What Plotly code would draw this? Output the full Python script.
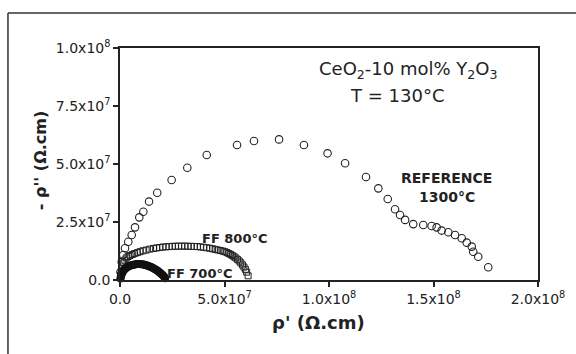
import plotly.graph_objects as go

# ---- data (values in Ohm.cm) ----
ref_x = [0.24, 0.81, 1.58, 2.39, 3.97, 5.6, 7.18, 9.23, 11.15, 13.9, 17.8, 24.7, 32.2, 41.5,
         56.0, 64.1, 76.1, 88.0, 99.3, 107.7, 117.7, 123.6, 128.1, 131.6, 134.0, 136.4, 140.3,
         145.1, 149.1, 151.5, 153.9, 157.1, 160.3, 163.5, 165.9, 168.3, 169.0, 171.4, 176.2]
ref_y = [3.45, 7.76, 10.8, 13.7, 16.5, 19.4, 22.7, 27.0, 29.4, 33.8, 37.6, 43.1, 48.4, 53.9,
         58.2, 59.9, 60.6, 58.2, 54.6, 50.3, 44.4, 39.5, 34.9, 30.5, 28.0, 25.9, 24.1,
         23.7, 23.3, 22.7, 21.3, 20.6, 19.4, 18.0, 16.1, 14.4, 12.2, 10.0, 5.5]

ff800_x = [0.3, 0.6, 1.0, 1.6, 2.3, 3.0, 3.9, 4.8, 5.9, 7.0, 8.3, 9.6, 11.0, 12.5, 14.2, 16.0,
           17.5, 19.0, 20.5, 22.0, 23.5, 25.0, 26.5, 28.0, 29.5, 31.0, 32.5, 34.0, 35.5, 37.0,
           38.5, 40.0, 41.5, 43.0, 44.3, 45.5, 46.8, 48.0, 49.2, 50.2, 51.2, 52.1, 53.0, 53.8,
           54.6, 55.4, 56.2, 57.0, 57.8, 58.6, 59.3, 60.0, 60.6, 61.3]
ff800_y = [2.0, 3.8, 5.6, 7.4, 8.6, 9.5, 10.1, 10.6, 11.0, 11.4, 11.8, 12.2, 12.6, 12.9, 13.3, 13.6,
           13.8, 14.0, 14.2, 14.3, 14.4, 14.5, 14.55, 14.6, 14.6, 14.6, 14.55, 14.5, 14.45, 14.4,
           14.25, 14.1, 13.9, 13.7, 13.45, 13.2, 12.95, 12.7, 12.45, 12.2, 11.8, 11.4, 11.0, 10.5,
           10.0, 9.5, 8.9, 8.2, 7.4, 6.5, 5.6, 4.6, 3.4, 1.8]

ff700_x = [0.2, 0.4, 0.6, 0.8, 1.0, 1.3, 1.6, 2.0, 2.5, 3.0, 3.5, 4.0, 4.6, 5.2, 5.8, 6.4, 7.0,
           7.6, 8.2, 8.8, 9.4, 10.0, 10.6, 11.2, 11.8, 12.4, 13.0, 13.6, 14.2, 14.8, 15.4, 16.0,
           16.6, 17.2, 17.8, 18.4, 19.0, 19.6, 20.2, 20.7, 21.2, 21.6]
ff700_y = [0.6, 1.3, 2.0, 2.6, 3.1, 3.6, 4.0, 4.5, 4.9, 5.3, 5.6, 5.85, 6.1, 6.3, 6.45, 6.6, 6.7,
           6.8, 6.85, 6.85, 6.85, 6.8, 6.75, 6.65, 6.55, 6.4, 6.25, 6.05, 5.85, 5.6, 5.35, 5.05,
           4.75, 4.4, 4.05, 3.65, 3.2, 2.75, 2.25, 1.8, 1.3, 0.8]

scale = 1e6
x_tickvals = [0, 5e7, 1e8, 1.5e8, 2e8]
x_ticktext = ["0.0", "5.0x10<sup>7</sup>", "1.0x10<sup>8</sup>", "1.5x10<sup>8</sup>", "2.0x10<sup>8</sup>"]
y_tickvals = [0, 2.5e7, 5e7, 7.5e7, 1e8]
y_ticktext = ["0.0", "2.5x10<sup>7</sup>", "5.0x10<sup>7</sup>", "7.5x10<sup>7</sup>", "1.0x10<sup>8</sup>"]

ink = "#222222"
fig = go.Figure()
fig.add_trace(go.Scatter(
    x=[v * scale for v in ref_x], y=[v * scale for v in ref_y], mode="markers",
    marker=dict(symbol="circle-open", size=7.5, color=ink, line=dict(width=1.1)),
    cliponaxis=False, showlegend=False))
fig.add_trace(go.Scatter(
    x=[v * scale for v in ff800_x], y=[v * scale for v in ff800_y], mode="markers",
    marker=dict(symbol="square-open", size=6, color=ink, line=dict(width=1)),
    cliponaxis=False, showlegend=False))
fig.add_trace(go.Scatter(
    x=[v * scale for v in ff700_x], y=[v * scale for v in ff700_y], mode="markers",
    marker=dict(symbol="circle", size=8, color="#111111"),
    cliponaxis=False, showlegend=False))

font_fam = "DejaVu Sans, sans-serif"
fig.update_layout(
    width=576, height=354,
    margin=dict(l=120, r=38, t=48, b=74),
    paper_bgcolor="white", plot_bgcolor="white",
    font=dict(family=font_fam, color=ink, size=14),
    xaxis=dict(range=[0, 2e8], tickvals=x_tickvals, ticktext=x_ticktext,
               showgrid=False, zeroline=False, showline=True, linecolor=ink, linewidth=1.5,
               mirror=True, ticks="outside", ticklen=5, tickwidth=1.5, tickcolor=ink,
               tickfont=dict(size=14)),
    yaxis=dict(range=[0, 1e8], tickvals=y_tickvals, ticktext=y_ticktext,
               showgrid=False, zeroline=False, showline=True, linecolor=ink, linewidth=1.5,
               mirror=True, ticks="outside", ticklen=5, tickwidth=1.5, tickcolor=ink,
               tickfont=dict(size=14)),
)

def ann(text, x, y, size, bold=False, angle=0):
    if bold:
        text = "<b>" + text + "</b>"
    fig.add_annotation(text=text, x=x, y=y, xref="paper", yref="paper", showarrow=False,
                       font=dict(size=size, color=ink, family=font_fam),
                       textangle=angle, xanchor="center", yanchor="middle")

ann("CeO<sub>2</sub>-10 mol% Y<sub>2</sub>O<sub>3</sub>", 0.691, 0.905, 18)
ann("T = 130°C", 0.663, 0.797, 18)
ann("REFERENCE", 0.780, 0.440, 14, bold=True)
ann("1300°C", 0.782, 0.358, 14, bold=True)
ann("FF 800°C", 0.275, 0.177, 13, bold=True)
ann("FF 700°C", 0.191, 0.030, 13, bold=True)
ann("ρ' (Ω.cm)", 0.474, -0.185, 18, bold=True)
ann("- ρ'' (Ω.cm)", -0.191, 0.517, 16, bold=True, angle=-90)

# outer frame (left & top edges of the scanned figure border)
fig.add_shape(type="line", xref="paper", yref="paper", x0=-0.268, y0=1.151, x1=1.2, y1=1.151,
              line=dict(color="#333333", width=1.5))
fig.add_shape(type="line", xref="paper", yref="paper", x0=-0.268, y0=1.151, x1=-0.268, y1=-0.4,
              line=dict(color="#333333", width=1.5))

fig.write_html("out.html")
